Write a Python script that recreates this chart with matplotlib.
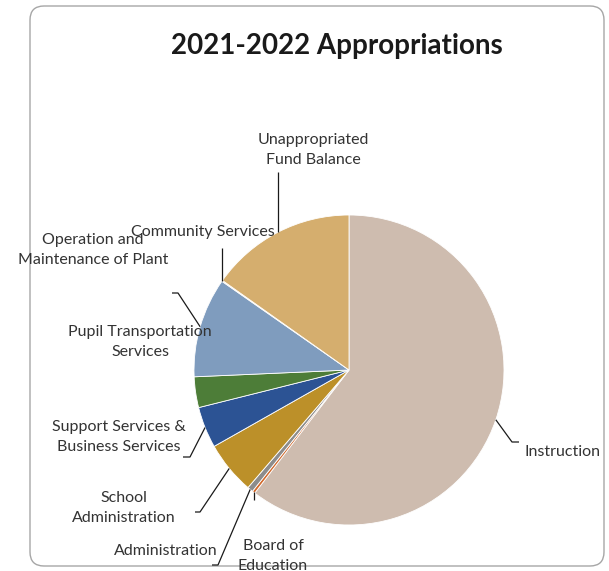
import numpy as np
import matplotlib
matplotlib.use("Agg")
import matplotlib.pyplot as plt
from matplotlib.patches import FancyBboxPatch

plt.rcParams['font.family'] = ['Lato', 'DejaVu Sans']

title = "2021-2022 Appropriations"
categories = [
    "Instruction",
    "Board of\nEducation",
    "Administration",
    "School\nAdministration",
    "Support Services &\nBusiness Services",
    "Pupil Transportation\nServices",
    "Operation and\nMaintenance of Plant",
    "Community Services",
    "Unappropriated\nFund Balance",
]
shares = [60.4, 0.3, 0.6, 5.5, 4.3, 3.2, 10.4, 0.1, 15.2]
colors = ["#CEBCAF", "#D26A2C", "#8C8C8C", "#BC9029", "#2C5394",
          "#4D7D38", "#7F9CBE", "#D8B07A", "#D5AE6E"]

W, H = 609, 571
fig = plt.figure(figsize=(W / 100, H / 100), dpi=100)
ax = fig.add_axes([0, 0, 1, 1])

def py(y):
    return H - y

# rounded frame
frame = FancyBboxPatch((30, py(566)), 574, 560, boxstyle="round,pad=0,rounding_size=14",
                       fc="white", ec="#A6A6A6", lw=1.0)
ax.add_patch(frame)

ax.text(337, py(46), title, ha='center', va='center', fontsize=20,
        fontweight='bold', color='#1A1A1A')

cx, cy, R = 349, 370, 155
wedges, _ = ax.pie(shares, colors=colors, startangle=90, counterclock=False,
                   center=(cx, py(cy)), radius=R, frame=True,
                   wedgeprops=dict(edgecolor='white', linewidth=0.6))
ax.set_xlim(0, W)
ax.set_ylim(0, H)
ax.set_aspect('equal')
ax.axis('off')

def anchor(w):
    a = np.deg2rad((w.theta1 + w.theta2) / 2)
    return cx + R * np.cos(a), py(cy) + R * np.sin(a)

# label centre (pixels) and leader elbow points (pixels) per slice
label_pos = {
    0: (524, 452, 'left'),
    1: (273, 556, 'center'),
    2: (166, 551, 'center'),
    3: (124, 508, 'center'),
    4: (119, 437, 'center'),
    5: (140, 342, 'center'),
    6: (93, 250, 'center'),
    7: (203, 232, 'center'),
    8: (313, 150, 'center'),
}
leaders = {
    0: [(512, 442), (519, 442)],
    1: [None, 500],
    2: [(218, 565), (212, 565)],
    3: [(200, 512), (195, 512)],
    4: [(190, 457), (183, 457)],
    6: [(178, 293), (172, 293)],
    7: [None, 248],
    8: [None, 172],
}

for i, name in enumerate(categories):
    x, y, ha = label_pos[i]
    ax.text(x, py(y), name, ha=ha, va='center', fontsize=11.5, color='#333333',
            linespacing=1.55)
    if i in leaders:
        ax_, ay_ = anchor(wedges[i])
        pts = leaders[i]
        if pts[0] is None:
            xs = [ax_, ax_]
            ys = [ay_, py(pts[1])]
        else:
            xs = [ax_] + [p[0] for p in pts]
            ys = [ay_] + [py(p[1]) for p in pts]
        ax.plot(xs, ys, color='#1A1A1A', lw=0.9, solid_capstyle='butt')

fig.savefig("out.png", dpi=100)
